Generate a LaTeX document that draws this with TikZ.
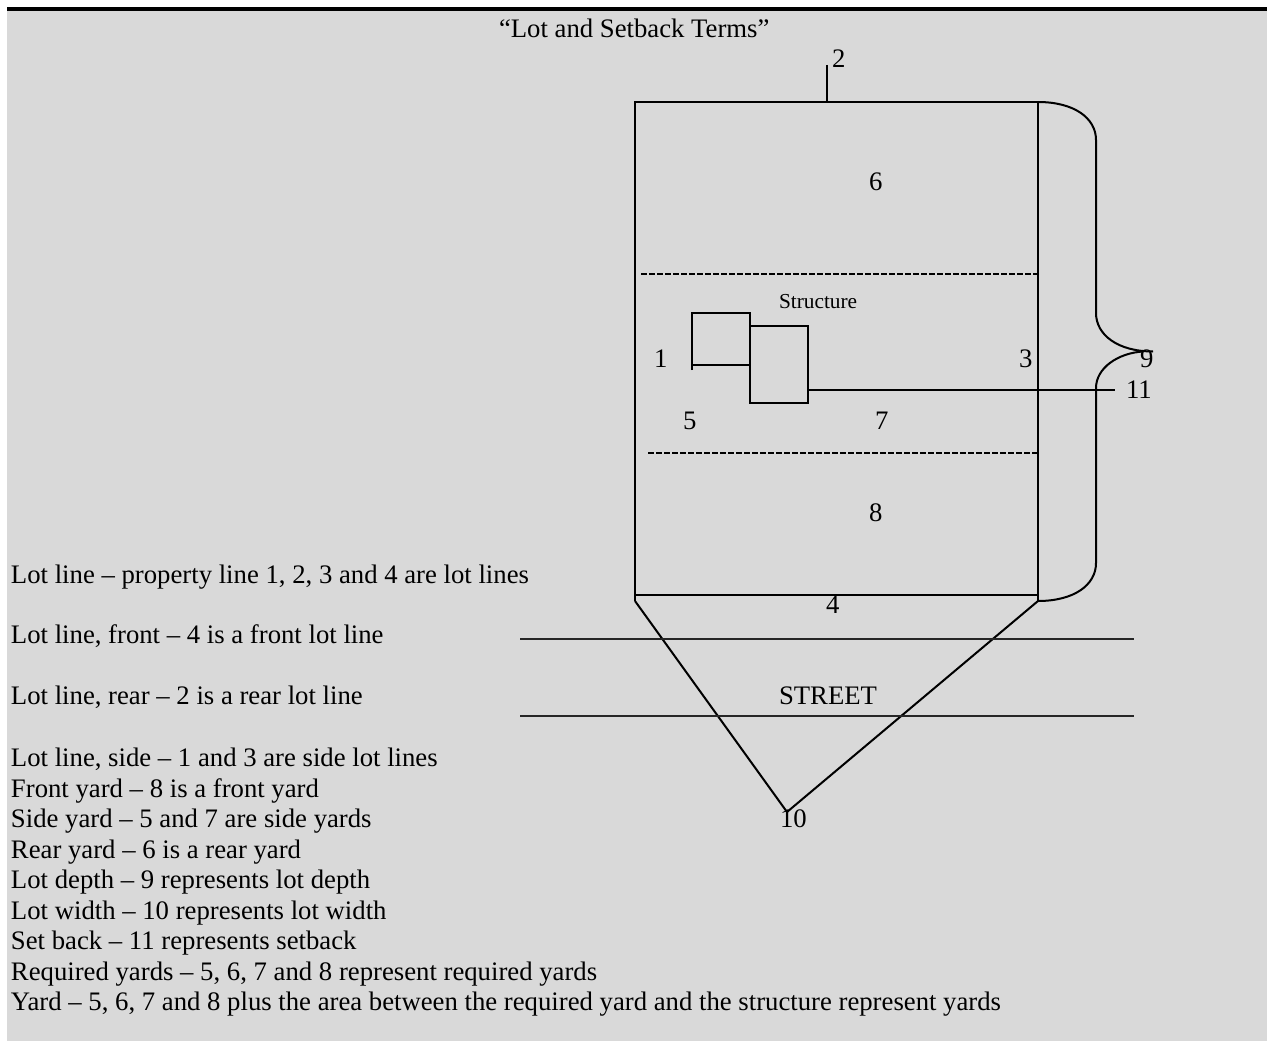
\documentclass[tikz,border=0pt]{standalone}
\usepackage{fontspec}
\setmainfont{Liberation Serif}
\definecolor{panel}{HTML}{D9D9D9}
\begin{document}
\begin{tikzpicture}[x=0.75pt,y=-0.75pt,
  ln/.style={line width=1.5pt,black},
  road/.style={line width=1.35pt,black!85},
  dsh/.style={line width=1pt,black,dash pattern=on 4.5pt off 1.5pt},
  txt/.style={anchor=base west,inner sep=0pt,outer sep=0pt,yshift=-0.5pt,font=\fontsize{20.04pt}{24pt}\selectfont,text=black},
  small/.style={anchor=base west,inner sep=0pt,outer sep=0pt,yshift=-0.9pt,font=\fontsize{16pt}{19pt}\selectfont,text=black}]
\useasboundingbox (0,0) rectangle (1267,1041);
\fill[white] (0,0) rectangle (1267,1041);
\fill[panel] (7,11) rectangle (1267,1041);
\fill[black] (7,7) rectangle (1267,11);
% lot corners
\coordinate (tl) at (635,102);
\coordinate (tr) at (1038,102);
\coordinate (bl) at (635,595);
\coordinate (br) at (1038,595);
\coordinate (apex) at (787,812);
\coordinate (tip) at (1153,351.5);
\coordinate (tick) at (827,65);
\coordinate (tickb) at (827,102);
\draw[ln] (bl) -- (tl) -- (tr) -- (1038,601);
\draw[ln] (bl) -- (br);
\draw[ln] (tick) -- (tickb);
\draw[ln] (635,601) -- (635,595);
\draw[ln] (635,601) -- (apex) -- (1038,601);
\draw[dsh] (641,274) -- (1038,274);
\draw[dsh] (648,453) -- (1038,453);
% brace
\draw[ln] (tr) .. controls (1074,102) and (1096,118) .. (1096,140) -- (1096,313)
  .. controls (1096,335) and (1118,351.5) .. (tip);
\draw[ln] (1143,351.5) .. controls (1118,353) and (1096,368) .. (1096,388) -- (1096,563)
  .. controls (1096,585) and (1074,601) .. (1038,601);
% structure
\draw[ln] (692,370) -- (692,313) -- (750,313) -- (750,403) -- (808,403) -- (808,326) -- (750,326);
\draw[ln] (692,365) -- (750,365);
\coordinate (setA) at (808,390);
\coordinate (setB) at (1115,390);
\draw[ln] (setA) -- (setB);
% street
\draw[road] (520,639) -- (1134,639);
\draw[road] (520,716) -- (1134,716);
% labels
\node[txt] (title) at (499,37) {“Lot and Setback Terms”};
\node[txt] (n2) at (832,67) {2};
\node[txt] (n6) at (869,190) {6};
\node[small] (st) at (779,307) {Structure};
\node[txt] (n1) at (654,367) {1};
\node[txt] (n3) at (1019,367) {3};
\node[txt] (n9) at (1140,367) {9};
\node[txt] (n11) at (1126,398) {11};
\node[txt] (n5) at (683,429) {5};
\node[txt] (n7) at (875,429) {7};
\node[txt] (n8) at (869,520.5) {8};
\node[txt] (n4) at (826,613) {4};
\node[txt] (street) at (779,704) {STREET};
\node[txt] (n10) at (780,827) {10};
\node[txt] (a) at (11,582.5) {Lot line – property line 1, 2, 3 and 4 are lot lines};
\node[txt] (b) at (11,643) {Lot line, front – 4 is a front lot line};
\node[txt] (c) at (11,704) {Lot line, rear – 2 is a rear lot line};
\node[txt] (d) at (11,766) {Lot line, side – 1 and 3 are side lot lines};
\node[txt] (e) at (11,796.5) {Front yard – 8 is a front yard};
\node[txt] (f) at (11,827) {Side yard – 5 and 7 are side yards};
\node[txt] (g) at (11,857.5) {Rear yard – 6 is a rear yard};
\node[txt] (h) at (11,888) {Lot depth – 9 represents lot depth};
\node[txt] (i) at (11,918.5) {Lot width – 10 represents lot width};
\node[txt] (j) at (11,949) {Set back – 11 represents setback};
\node[txt] (k) at (11,979.5) {Required yards – 5, 6, 7 and 8 represent required yards};
\node[txt] (l) at (11,1010) {Yard – 5, 6, 7 and 8 plus the area between the required yard and the structure represent yards};
\end{tikzpicture}
\end{document}
